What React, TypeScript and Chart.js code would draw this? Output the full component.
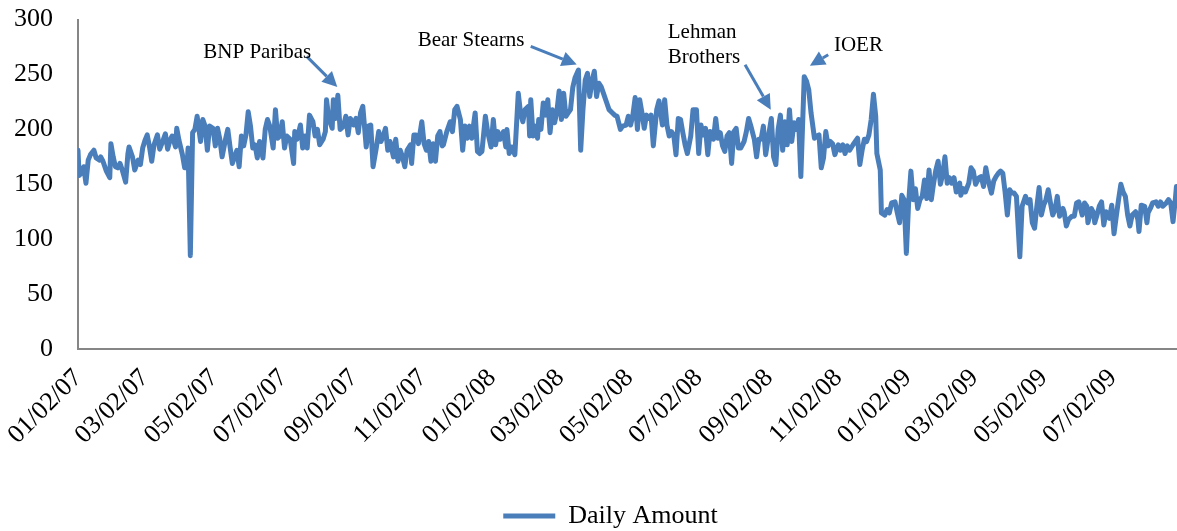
import React, { useEffect, useRef } from 'react';
import { Chart, registerables } from 'chart.js';

Chart.register(...registerables);

// Days counted from the first observation (01/02/07)
const START = '01/02/07';

const dayOffsets: number[] = [
  0, 1, 3, 5, 7, 9, 11, 14, 16, 19, 20, 22, 25, 28, 29, 31, 33, 35, 37, 39,
  42, 44, 45, 48, 50, 53, 55, 57, 59, 61, 63, 65, 67, 70, 72, 75, 77, 79, 81, 83,
  86, 87, 89, 92, 94, 96, 97, 99, 101, 103, 105, 108, 110, 112, 114, 116, 119, 121, 123, 125,
  127, 130, 132, 134, 136, 138, 140, 142, 144, 146, 148, 150, 152, 154, 156, 158,
  160, 163, 165, 167, 169, 172, 174, 176, 178, 180, 182, 184, 187, 190, 191, 193, 196, 198, 200, 202,
  204, 207, 209, 211, 213, 216, 218, 219, 221, 224, 225, 227, 229, 231, 234, 236, 238, 240, 243, 245,
  247, 249, 251, 254, 256, 258, 260, 263, 265, 267, 269, 271, 273, 275, 278, 280, 282, 284, 286, 288,
  290, 293, 294, 296, 298, 300, 303, 305, 307, 309, 311, 313, 315, 317, 319, 321,
  322, 325, 328, 330, 332, 334, 337, 339, 341, 343, 345, 347, 350, 352, 354, 356, 359, 361, 364, 366,
  368, 370, 372, 375, 377, 378, 380, 382, 385, 388, 390, 392, 394, 397, 398, 399, 401, 403, 405, 406,
  408, 410, 412, 414, 416, 418, 420, 422, 424, 426, 428, 430, 432, 434, 436, 438, 441, 443, 445, 447,
  449, 451, 453, 455, 457, 459, 461, 463, 466, 468, 471, 473, 475, 478, 480, 483,
  485, 487, 489, 491, 493, 495, 497, 499, 501, 503, 505, 507, 509, 510, 512, 515, 517, 519, 521, 523,
  525, 527, 529, 531, 533, 535, 537, 540, 542, 545, 547, 549, 551, 553, 555, 557, 559, 560, 562, 564,
  566, 568, 570, 572, 574, 576, 578, 580, 582, 584, 587, 589, 591, 593, 596, 598, 600, 602, 604, 606,
  609, 611, 613, 615, 617, 619, 621, 623, 625, 627, 629, 631, 633, 635, 637, 640, 642, 644, 646,
  649, 651, 653, 655, 657, 659, 661, 663, 665, 667, 670, 672, 674, 676, 678, 680, 683, 685, 687, 689,
  691, 693, 695, 697, 699, 701, 703, 704, 707, 708, 711, 713, 715, 717, 720, 722, 724, 726, 728, 730,
  732, 734, 736, 738, 740, 742, 744, 746, 748, 750, 752, 754, 756, 758, 760, 762, 764, 766, 768, 770,
  772, 774, 777, 778, 780, 782, 785, 787, 789, 791, 794, 796, 798, 800, 802, 805, 807,
  809, 811, 813, 815, 817, 819, 821, 823, 825, 827, 830, 832, 835, 837, 839, 841, 843, 845, 847, 849,
  851, 853, 855, 857, 859, 861, 863, 865, 868, 869, 871, 873, 876, 878, 880, 882, 885, 887, 889, 890,
  893, 895, 896, 898, 900, 902, 904, 906, 909, 911, 913, 915, 917, 919, 921, 923, 925, 927, 929, 932,
  934, 935, 937, 940, 942, 943, 945, 947, 950, 952, 954, 956, 959, 961, 963, 965, 967, 968,
];

const dailyAmount: number[] = [
  181, 158, 160, 166, 151, 172, 177, 181, 174, 172, 175, 171, 162, 156, 187, 175, 166, 165, 169, 163,
  152, 178, 184, 175, 163, 172, 168, 183, 190, 195, 184, 171, 186, 195, 182, 190, 196, 182, 190, 194,
  184, 201, 190, 177, 165, 165, 183, 85, 197, 200, 212, 189, 209, 203, 181, 203, 201, 185, 201, 191,
  175, 191, 200, 184, 169, 175, 181, 166, 194, 185, 195, 216, 203, 183, 186, 174,
  189, 174, 200, 209, 203, 183, 218, 192, 194, 207, 183, 194, 191, 169, 198, 191, 204, 183, 194, 183,
  213, 207, 194, 200, 186, 191, 198, 227, 210, 201, 227, 210, 231, 200, 203, 212, 195, 210, 204, 210,
  197, 215, 221, 184, 203, 204, 166, 184, 198, 189, 194, 201, 181, 189, 175, 191, 171, 181, 175, 166,
  181, 186, 169, 195, 195, 187, 207, 187, 181, 189, 171, 187, 171, 194, 198, 185,
  186, 198, 207, 198, 218, 221, 209, 181, 203, 192, 203, 192, 215, 180, 178, 180, 212, 198, 184, 209,
  186, 198, 191, 198, 184, 200, 178, 184, 177, 233, 215, 207, 218, 221, 194, 227, 194, 203, 192, 209,
  200, 224, 213, 227, 197, 218, 206, 216, 235, 209, 233, 212, 215, 218, 238, 247, 254, 181, 218, 245,
  251, 230, 244, 253, 230, 242, 239, 233, 224, 218, 215, 213, 212, 200, 203, 204,
  212, 204, 213, 229, 200, 227, 215, 201, 213, 210, 213, 185, 207, 218, 226, 204, 227, 204, 194, 198,
  195, 177, 210, 209, 197, 186, 178, 194, 218, 218, 178, 204, 195, 201, 177, 198, 197, 191, 210, 192,
  197, 185, 180, 194, 197, 169, 198, 201, 183, 183, 189, 198, 210, 203, 191, 175, 191, 191, 203, 177,
  197, 210, 175, 168, 200, 213, 181, 207, 186, 218, 189, 206, 200, 209, 157, 248, 244, 236, 215,
  192, 194, 195, 165, 174, 198, 185, 189, 187, 177, 186, 181, 186, 178, 185, 181, 186, 189, 192, 168,
  181, 191, 189, 195, 209, 232, 212, 178, 163, 124, 122, 127, 124, 133, 134, 124, 115, 140, 136, 87,
  133, 162, 136, 146, 128, 136, 139, 154, 137, 163, 136, 151, 163, 171, 150, 159, 175, 151, 156, 151,
  156, 143, 151, 140, 146, 143, 151, 165, 162, 150, 156, 157, 148, 165, 154, 142, 153,
  157, 160, 162, 160, 143, 122, 145, 142, 142, 139, 84, 130, 139, 133, 136, 115, 110, 130, 147, 122,
  131, 136, 145, 133, 122, 127, 139, 121, 128, 125, 112, 118, 121, 121, 133, 134, 122, 133, 130, 115,
  128, 124, 115, 122, 130, 134, 113, 125, 119, 131, 105, 121, 136, 150, 143, 139, 122, 112, 122, 125,
  118, 107, 131, 130, 115, 124, 128, 133, 134, 130, 134, 130, 133, 136, 133, 116, 136, 148,
];

const tickLabels: string[] = [
  '01/02/07', '03/02/07', '05/02/07', '07/02/07', '09/02/07', '11/02/07',
  '01/02/08', '03/02/08', '05/02/08', '07/02/08', '09/02/08', '11/02/08',
  '01/02/09', '03/02/09', '05/02/09', '07/02/09',
];

const yTicksMax = 300;
const yTickStep = 50;
const xLastDay = 968.5;

// Event annotations (anchored on the data: day offset and level)
const eventNames: string[][] = [['BNP Paribas'], ['Bear Stearns'], ['Lehman', 'Brothers'], ['IOER']];
const eventDays: number[] = [228.5, 439.5, 610.5, 645];
const eventLevels: number[] = [238.6, 259, 218, 258];

const seriesLabel = 'Daily Amount';

const LINE_COLOR = '#4a7ebb';
const AXIS_COLOR = '#868686';
const FONT = "'Liberation Serif', 'Times New Roman', serif";

function toUTC(s: string): number {
  const [mm, dd, yy] = s.split('/').map(Number);
  return Date.UTC(2000 + yy, mm - 1, dd);
}
const DAY = 86400000;
const tickDays = tickLabels.map((l) => Math.round((toUTC(l) - toUTC(START)) / DAY));

// Pixel offsets for arrow tails and label text relative to the arrow tip
const eventStyle = [
  { tail: [-30.6, -30.6], text: [-134, -29], lineGap: 25 },
  { tail: [-46, -18.3], text: [-159, -19], lineGap: 25 },
  { tail: [-25.7, -45], text: [-103, -72], lineGap: 25 },
  { tail: [18.3, -11], text: [24, -15], lineGap: 25 },
];

const annotationPlugin = {
  id: 'eventArrows',
  afterDatasetsDraw(chart: any) {
    const { ctx } = chart;
    const xs = chart.scales.x;
    const ys = chart.scales.y;
    ctx.save();
    eventNames.forEach((lines, i) => {
      const tx = xs.getPixelForValue(eventDays[i]);
      const ty = ys.getPixelForValue(eventLevels[i]);
      const st = eventStyle[i];
      const sx = tx + st.tail[0];
      const sy = ty + st.tail[1];
      const ang = Math.atan2(ty - sy, tx - sx);
      const headLen = 15;
      const headHalf = 7.5;
      const bx = tx - headLen * Math.cos(ang);
      const by = ty - headLen * Math.sin(ang);
      ctx.strokeStyle = LINE_COLOR;
      ctx.fillStyle = LINE_COLOR;
      ctx.lineWidth = 3;
      ctx.lineCap = 'butt';
      ctx.beginPath();
      ctx.moveTo(sx, sy);
      ctx.lineTo(bx, by);
      ctx.stroke();
      ctx.beginPath();
      ctx.moveTo(tx, ty);
      ctx.lineTo(bx + headHalf * Math.sin(ang), by - headHalf * Math.cos(ang));
      ctx.lineTo(bx - headHalf * Math.sin(ang), by + headHalf * Math.cos(ang));
      ctx.closePath();
      ctx.fill();
      ctx.fillStyle = '#000';
      ctx.font = `21px ${FONT}`;
      ctx.textAlign = 'left';
      ctx.textBaseline = 'alphabetic';
      lines.forEach((t, k) => {
        ctx.fillText(t, tx + st.text[0], ty + st.text[1] + k * st.lineGap);
      });
    });
    ctx.restore();
  },
};

const legendShift = {
  id: 'legendShift',
  afterLayout(chart: any) {
    if (chart.legend) {
      chart.legend.left += 44;
    }
  },
};

export default function App() {
  const canvasRef = useRef<HTMLCanvasElement>(null);

  useEffect(() => {
    const canvas = canvasRef.current;
    if (!canvas) return;
    const points = dayOffsets.map((d, i) => ({ x: d, y: dailyAmount[i] }));
    const chart = new Chart(canvas, {
      type: 'line',
      data: {
        datasets: [
          {
            label: seriesLabel,
            data: points,
            borderColor: LINE_COLOR,
            backgroundColor: LINE_COLOR,
            borderWidth: 5,
            pointRadius: 0,
            tension: 0,
            borderJoinStyle: 'round',
            borderCapStyle: 'round',
          },
        ],
      },
      options: {
        animation: false,
        responsive: false,
        devicePixelRatio: 1,
        layout: { padding: { top: 0, bottom: -8, left: 0, right: 0 } },
        scales: {
          x: {
            type: 'linear',
            min: 0,
            max: xLastDay,
            grid: {
              display: true,
              drawOnChartArea: false,
              drawTicks: true,
              tickLength: 12,
              color: 'rgba(0,0,0,0)',
            },
            border: { display: true, color: AXIS_COLOR, width: 2 },
            afterBuildTicks: (scale: any) => {
              scale.ticks = tickDays.map((v) => ({ value: v }));
            },
            afterFit: (scale: any) => {
              scale.height = 144;
            },
            ticks: {
              autoSkip: false,
              minRotation: 45,
              maxRotation: 45,
              padding: 2,
              color: '#000',
              font: { family: FONT, size: 26 },
              callback: (_v: any, idx: number) => tickLabels[idx],
            },
          },
          y: {
            min: 0,
            max: yTicksMax,
            grid: {
              display: true,
              drawOnChartArea: false,
              drawTicks: true,
              tickLength: 21,
              color: 'rgba(0,0,0,0)',
            },
            border: { display: true, color: AXIS_COLOR, width: 2 },
            afterFit: (scale: any) => {
              scale.width = 78;
            },
            ticks: {
              stepSize: yTickStep,
              padding: 4,
              color: '#000',
              font: { family: FONT, size: 26 },
            },
          },
        },
        plugins: {
          tooltip: { enabled: false },
          legend: {
            position: 'bottom',
            labels: {
              boxWidth: 52,
              boxHeight: 5,
              padding: 10,
              color: '#000',
              font: { family: FONT, size: 26 },
              generateLabels: (c: any) =>
                c.data.datasets.map((ds: any, i: number) => ({
                  text: ds.label,
                  fillStyle: LINE_COLOR,
                  strokeStyle: LINE_COLOR,
                  lineWidth: 0,
                  hidden: false,
                  datasetIndex: i,
                })),
            },
          },
        },
      },
      plugins: [annotationPlugin, legendShift],
    });
    return () => chart.destroy();
  }, []);

  return (
    <div style={{ position: 'fixed', left: 0, top: 0, width: 1177, height: 531, background: '#fff' }}>
      <canvas ref={canvasRef} width={1177} height={531} style={{ display: 'block' }} />
    </div>
  );
}
